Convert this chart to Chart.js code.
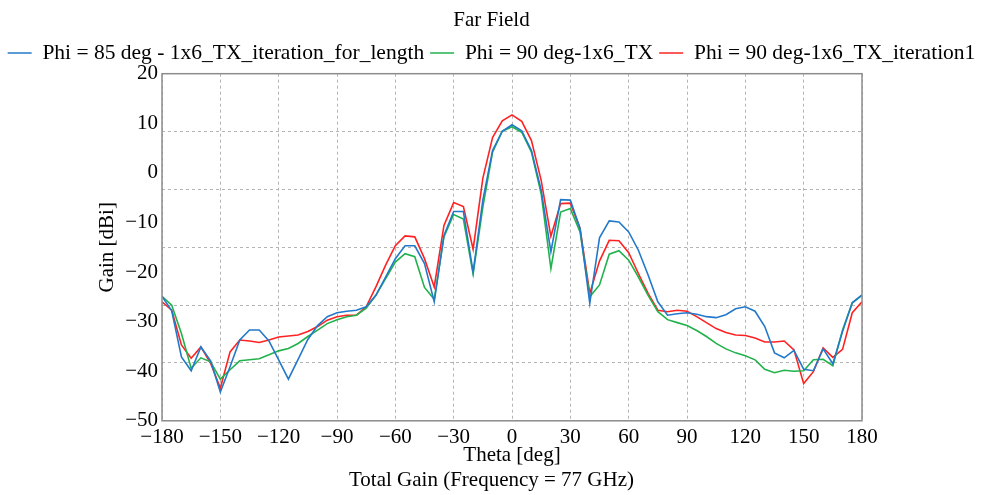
<!DOCTYPE html>
<html>
<head>
<meta charset="utf-8">
<title>Far Field</title>
<script src="https://cdn.jsdelivr.net/npm/chart.js@4.4.0/dist/chart.umd.min.js"></script>
<style>
  body { margin: 0; background: #fff; }
  canvas { display: block; }
</style>
</head>
<body>
<canvas id="chart" width="983" height="495"></canvas>
<script>
// theta in degrees, one point every 5 deg
const theta = [];
for (let t = -180; t <= 180; t += 5) theta.push(t);

const phi85Length = [
  -24.9, -27.8, -37.1, -39.9, -35.1, -37.9, -44.2, -39.1, -33.7, -31.7,
  -31.7, -33.9, -37.7, -41.6, -37.6, -33.6, -30.8, -29.0, -28.2, -27.9,
  -27.7, -27.0, -24.7, -21.0, -17.3, -14.7, -14.7, -18.3, -26.0, -12.6,
  -7.8, -7.8, -20.0, -5.5, 4.5, 8.4, 9.7, 8.5, 4.5, -3.5,
  -15.9, -5.4, -5.5, -11.2, -26.3, -13.1, -9.7, -9.9, -11.9, -15.6,
  -20.6, -26.0, -28.7, -28.4, -28.2, -28.5, -29.0, -29.2, -28.6, -27.4,
  -27.0, -27.9, -31.0, -36.3, -37.3, -35.8, -39.6, -39.9, -35.5, -38.5,
  -32.0, -26.2, -24.6
];

const phi90TX = [
  -24.9, -26.7, -32.4, -39.4, -37.3, -38.1, -41.6, -39.7, -37.9, -37.7,
  -37.5, -36.7, -35.9, -35.4, -34.4, -33.0, -31.7, -30.4, -29.6, -29.0,
  -28.7, -27.3, -24.7, -21.3, -18.0, -16.3, -16.9, -23.1, -25.5, -12.9,
  -8.4, -9.3, -20.4, -6.9, 4.2, 8.4, 9.3, 8.2, 4.2, -4.2,
  -19.3, -7.9, -7.2, -11.9, -25.0, -22.6, -16.4, -15.7, -17.6, -21.0,
  -24.7, -28.0, -29.6, -30.2, -30.8, -31.8, -33.0, -34.4, -35.5, -36.3,
  -36.9, -37.7, -39.6, -40.3, -39.8, -40.0, -39.9, -37.7, -37.6, -38.9,
  -31.7, -26.2, -24.7
];

const phi90Iter1 = [
  -26.0, -27.7, -34.7, -37.4, -35.1, -38.4, -43.4, -36.1, -33.7, -33.9,
  -34.2, -33.7, -33.1, -32.9, -32.7, -32.0, -31.0, -29.7, -29.0, -28.7,
  -28.7, -27.0, -23.0, -18.6, -14.7, -12.7, -12.9, -17.3, -23.0, -10.6,
  -6.0, -6.8, -15.4, -1.1, 7.1, 10.5, 11.7, 10.4, 6.5, -1.5,
  -12.8, -6.2, -6.1, -11.2, -24.3, -17.8, -13.6, -13.7, -16.1, -20.3,
  -24.3, -27.7, -28.0, -27.7, -27.9, -29.0, -30.2, -31.4, -32.2, -32.7,
  -32.8, -33.3, -34.1, -34.1, -33.9, -35.7, -42.5, -40.1, -35.3, -37.2,
  -35.6, -28.2, -26.0
];

const seriesNames = [
  'Phi = 85 deg - 1x6_TX_iteration_for_length',
  'Phi = 90 deg-1x6_TX',
  'Phi = 90 deg-1x6_TX_iteration1'
];
const seriesColors = ['#2379c9', '#21b24c', '#ff2222'];

const yMin = -50, yMax = 20;
const xTicks = [-180, -150, -120, -90, -60, -30, 0, 30, 60, 90, 120, 150, 180];

const serif = 'Liberation Serif, Times New Roman, serif';

function pts(vals) {
  return vals.map((v, i) => ({ x: theta[i], y: v }));
}
function minus(v) {
  return String(v).replace('-', '\u2212');
}

// plot frame
const framePlugin = {
  id: 'frame',
  afterDraw(chart) {
    const a = chart.chartArea, ctx = chart.ctx;
    ctx.save();
    ctx.strokeStyle = '#8c8c8c';
    ctx.lineWidth = 1.5;
    ctx.strokeRect(a.left, a.top, a.right - a.left, a.bottom - a.top);
    ctx.restore();
  }
};

Chart.defaults.font.family = serif;
Chart.defaults.color = '#000';

new Chart(document.getElementById('chart'), {
  type: 'line',
  data: {
    datasets: [phi85Length, phi90TX, phi90Iter1].map((vals, i) => ({
      label: seriesNames[i],
      data: pts(vals),
      borderColor: seriesColors[i],
      backgroundColor: seriesColors[i],
      borderWidth: 1.6,
      pointRadius: 0,
      tension: 0
    }))
  },
  options: {
    responsive: false,
    animation: false,
    devicePixelRatio: 1,
    layout: { padding: 0 },
    plugins: {
      title: {
        display: true,
        text: 'Far Field',
        font: { size: 21, weight: 'normal', family: serif },
        color: '#000',
        padding: { top: 8, bottom: 3 }
      },
      subtitle: {
        display: true,
        position: 'bottom',
        text: 'Total Gain (Frequency = 77 GHz)',
        font: { size: 21, weight: 'normal', family: serif },
        color: '#000',
        padding: { top: 0, bottom: 2 }
      },
      legend: {
        position: 'top',
        labels: {
          usePointStyle: true,
          pointStyle: 'line',
          pointStyleWidth: 24,
          font: { size: 21.5, family: serif },
          color: '#000',
          padding: 6
        }
      },
      tooltip: { enabled: false }
    },
    scales: {
      x: {
        type: 'linear',
        min: -180,
        max: 180,
        afterBuildTicks: s => { s.ticks = xTicks.map(v => ({ value: v })); },
        afterFit: s => { s.height = 47; },
        ticks: { font: { size: 21, family: serif }, color: '#000', padding: 4, callback: v => minus(v), maxRotation: 0 },
        grid: { color: '#b4b4b4', lineWidth: 1, drawTicks: false },
        border: { display: false, dash: [3, 3] },
        title: {
          display: true,
          text: 'Theta [deg]',
          font: { size: 21, family: serif },
          color: '#000',
          padding: { top: 0, bottom: 0 }
        }
      },
      y: {
        min: yMin,
        max: yMax,
        afterFit: s => { s.width = 162; },
        ticks: { stepSize: 10, font: { size: 21, family: serif }, color: '#000', padding: 4, callback: v => minus(v) },
        grid: { display: false, drawTicks: false },
        border: { display: false },
        title: {
          display: true,
          text: 'Gain [dBi]',
          font: { size: 21, family: serif },
          color: '#000',
          padding: { top: 95, bottom: 0 }
        }
      },
      // grid lines split the range in six equal parts, independent from the labels
      yGrid: {
        position: 'right',
        min: yMin,
        max: yMax,
        afterBuildTicks: s => {
          const t = [];
          for (let k = 0; k <= 6; k++) t.push({ value: yMin + (yMax - yMin) * k / 6 });
          s.ticks = t;
        },
        afterFit: s => { s.width = 121; },
        ticks: { display: false },
        grid: { color: '#b4b4b4', lineWidth: 1, drawTicks: false },
        border: { display: false, dash: [3, 3] }
      }
    }
  },
  plugins: [framePlugin]
});
</script>
</body>
</html>
